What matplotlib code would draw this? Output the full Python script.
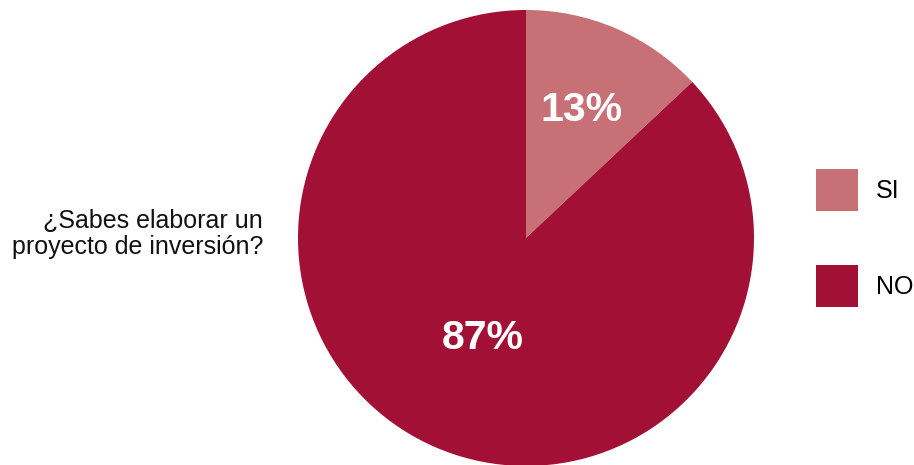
import matplotlib
matplotlib.use("Agg")
import matplotlib.pyplot as plt
import numpy as np

plt.rcParams['font.family'] = ['Liberation Sans', 'DejaVu Sans']

# Survey answers
categories = ["SI", "NO"]
values = [13, 87]
colors = ["#C77076", "#A31035"]
question = "¿Sabes elaborar un\nproyecto de inversión?"
label_radius = [0.61, 0.48]

W, H = 914, 465
fig = plt.figure(figsize=(W / 100, H / 100), dpi=100)

# Pie axes: centre and radius in pixels
cx, cy, r = 526, 238, 228
ax = fig.add_axes([(cx - r) / W, (H - cy - r) / H, 2 * r / W, 2 * r / H])
wedges, texts, autotexts = ax.pie(
    values,
    colors=colors,
    startangle=90,
    counterclock=False,
    autopct=lambda p: f"{p:.0f}%",
    pctdistance=0.6,
    wedgeprops=dict(linewidth=0),
    textprops=dict(color="white", fontsize=29.5, fontweight="bold"),
)
# place each percentage along its wedge bisector
for w, t, rad in zip(wedges, autotexts, label_radius):
    ang = np.deg2rad((w.theta1 + w.theta2) / 2)
    t.set_position((rad * np.cos(ang), rad * np.sin(ang)))

ax.set_aspect("equal")
ax.set_xlim(-1, 1)
ax.set_ylim(-1, 1)

fig.text(263 / W, 1 - 234 / H, question, ha="right", va="center",
         multialignment="right", fontsize=18, color="#111111", linespacing=1.15)

fig.legend(
    wedges, categories,
    loc="center left",
    bbox_to_anchor=(816 / W, 1 - 238 / H),
    bbox_transform=fig.transFigure,
    frameon=False,
    fontsize=18,
    handlelength=1.68,
    handleheight=2.21,
    handletextpad=0.72,
    labelspacing=2.16,
    borderpad=0,
    borderaxespad=0,
)

fig.savefig("out.png", dpi=100)
